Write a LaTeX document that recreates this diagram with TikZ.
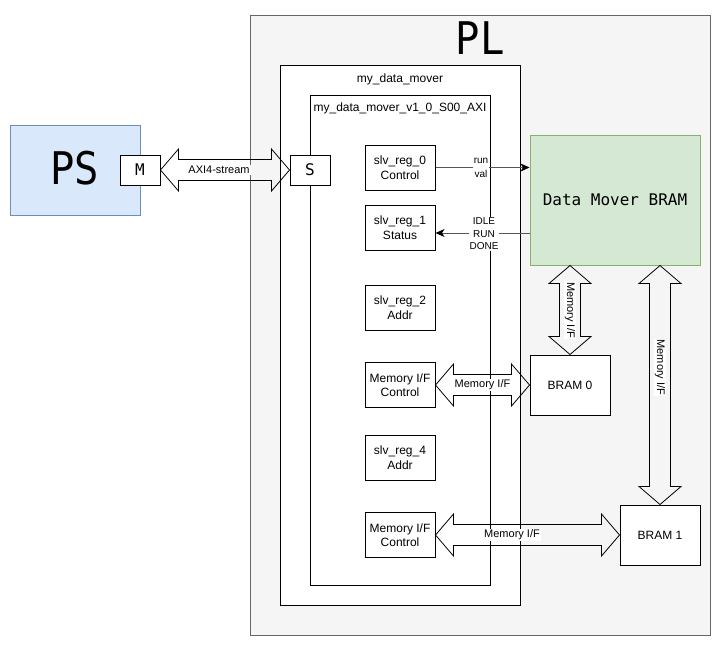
\documentclass[tikz,border=0pt]{standalone}
\usepackage{fontspec}
\setmainfont{Liberation Sans}
\newfontfamily\monof{DejaVu Sans Mono}
\usetikzlibrary{calc,arrows.meta}
\definecolor{plfill}{HTML}{F5F5F5}
\definecolor{pldraw}{HTML}{666666}
\definecolor{psfill}{HTML}{DAE8FC}
\definecolor{psdraw}{HTML}{6C8EBF}
\definecolor{dmfill}{HTML}{D5E8D4}
\definecolor{dmdraw}{HTML}{82B366}
\definecolor{sigline}{HTML}{555555}
\tikzset{
  box/.style={draw=black, fill=white, line width=1pt, inner sep=0pt, align=center,
    font=\fontsize{12}{14.5}\selectfont},
  regbox/.style={box, minimum width=70, minimum height=45},
  portbox/.style={box, minimum width=40, minimum height=30, font=\monof\fontsize{16}{18}\selectfont},
  flex/.style={draw=black, line width=0.8pt, line join=miter},
  flexlabel/.style={fill=white, inner sep=1pt, font=\fontsize{11}{13}\selectfont},
  siglabel/.style={fill=white, inner sep=1pt, align=center, font=\fontsize{10}{12.5}\selectfont},
  sig/.style={draw=sigline, line width=1pt, -{Stealth[length=9pt,width=8pt,inset=2.5pt,color=black]}},
}
\newcommand\hflexarrow[2]{%
  \draw[flex] (#1) -- ($(#1)+(18,-21)$) -- ($(#1)+(18,-10.5)$) -- ($(#2)+(-18,-10.5)$) -- ($(#2)+(-18,-21)$) -- (#2)
    -- ($(#2)+(-18,21)$) -- ($(#2)+(-18,10.5)$) -- ($(#1)+(18,10.5)$) -- ($(#1)+(18,21)$) -- cycle;}
\newcommand\vflexarrow[2]{%
  \draw[flex] (#1) -- ($(#1)+(21,18)$) -- ($(#1)+(10.5,18)$) -- ($(#2)+(10.5,-18)$) -- ($(#2)+(21,-18)$) -- (#2)
    -- ($(#2)+(-21,-18)$) -- ($(#2)+(-10.5,-18)$) -- ($(#1)+(-10.5,18)$) -- ($(#1)+(-21,18)$) -- cycle;}
\begin{document}
\begin{tikzpicture}[x=1pt,y=-1pt]
\useasboundingbox (0,0) rectangle (722,646);
% PL region
\node[draw=pldraw, fill=plfill, line width=1pt, minimum width=460, minimum height=620, inner sep=0pt] (pl) at (480,325) {};
\node[font=\monof\fontsize{45}{50}\selectfont, inner sep=0pt, xscale=0.9] (pllabel) at (480,38) {PL};
% PS region
\node[draw=psdraw, fill=psfill, line width=1pt, minimum width=130, minimum height=90, inner sep=0pt] (ps) at (75,170) {};
\node[font=\monof\fontsize{45}{50}\selectfont, inner sep=0pt, xscale=0.9] (pslabel) at (75,168) {PS};
\node[portbox] (m) at (140,170) {M};
% my_data_mover
\node[box, minimum width=240, minimum height=540] (dmv) at (400,335) {};
\node[font=\fontsize{12}{14}\selectfont, inner sep=0pt] (dmvlabel) at (400,79) {my\_data\_mover};
\node[box, minimum width=180, minimum height=490] (axi) at (400,340) {};
\node[font=\fontsize{12}{14}\selectfont, inner sep=0pt] (axilabel) at (400,108) {my\_data\_mover\_v1\_0\_S00\_AXI};
\node[portbox] (s) at (310,170) {S};
% registers
\node[regbox] (r0) at (400,167.5) {slv\_reg\_0\\Control};
\node[regbox] (r1) at (400,227.5) {slv\_reg\_1\\Status};
\node[regbox] (r2) at (400,307.5) {slv\_reg\_2\\Addr};
\node[regbox] (mc1) at (400,385) {Memory I/F\\Control};
\node[regbox] (r4) at (400,457.5) {slv\_reg\_4\\Addr};
\node[regbox] (mc2) at (400,535) {Memory I/F\\Control};
% data mover and BRAMs
\node[draw=dmdraw, fill=dmfill, line width=1pt, minimum width=170, minimum height=130, inner sep=0pt,
  font=\monof\fontsize{16}{18}\selectfont] (dm) at (615,200) {Data Mover BRAM};
\node[box, minimum width=80, minimum height=60] (b0) at (570,385) {BRAM 0};
\node[box, minimum width=80, minimum height=60] (b1) at (660,535) {BRAM 1};
% flex arrows
\hflexarrow{m.east}{s.west}
\node[flexlabel] (axil) at (219,170) {AXI4-stream};
\hflexarrow{mc1.east}{b0.west}
\node[flexlabel] (mif1) at (482.5,385) {Memory I/F};
\hflexarrow{mc2.east}{b1.west}
\node[flexlabel] (mif2) at (512,535) {Memory I/F};
\coordinate (t0) at (b0.north |- dm.south);
\coordinate (t1) at (b1.north |- dm.south);
\vflexarrow{t0}{b0.north}
\node[flexlabel, rotate=-90] (vif1) at (570,310) {Memory I/F};
\vflexarrow{t1}{b1.north}
\node[flexlabel, rotate=-90] (vif2) at (660,367.5) {Memory I/F};
% signals
\draw[sig] (r0.east) -- (r0.east -| dm.west);
\node[siglabel, font=\fontsize{10}{13.5}\selectfont] (runval) at (481,168) {run\\val};
\draw[sig] (dm.west |- 0,233) -- (r1.east |- 0,233);
\node[siglabel] (idle) at (484,234) {IDLE\\RUN\\DONE};
\end{tikzpicture}
\end{document}
